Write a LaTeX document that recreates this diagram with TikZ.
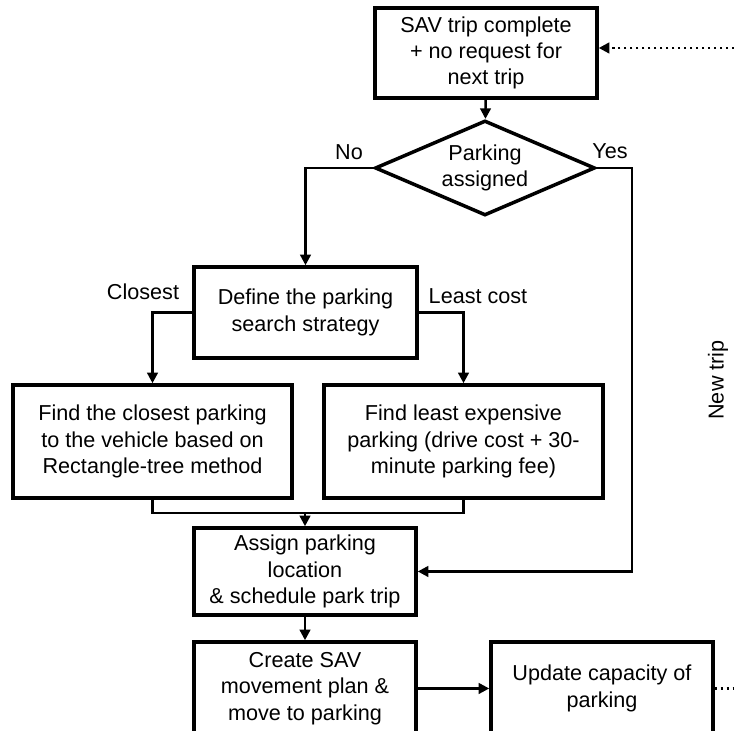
\documentclass[tikz,border=0pt]{standalone}
\usepackage{fontspec}
\setmainfont{Liberation Sans}
\usetikzlibrary{shapes.geometric,arrows.meta}
\begin{document}
\begin{tikzpicture}[
  font=\fontsize{12.3}{15}\selectfont,
  box/.style={draw,line width=2pt,align=center,inner sep=0pt,minimum width=4.44cm},
  widebox/.style={box,minimum width=5.58cm,minimum height=2.26cm},
  flow/.style={line width=1.4pt,-{Triangle[length=6pt,width=6pt]}},
  link/.style={line width=1.4pt}
]
  \useasboundingbox (0,0) rectangle (14.68,14.62);
  \clip (0,0) rectangle (14.68,14.62);
  \node[box,minimum height=1.8cm] (done) at (9.72,13.56) {SAV trip complete\\+ no request for\\next trip};
  \node[draw,line width=2pt,shape=diamond,aspect=2.4,align=center,inner sep=0pt,
        minimum width=4.4cm,minimum height=1.9cm] (assigned) at (9.70,11.26) {Parking\\assigned};
  \node[box,minimum width=4.46cm,minimum height=1.82cm] (strategy) at (6.11,8.37) {Define the parking\\search strategy};
  \node[widebox] (closest) at (3.05,5.79) {Find the closest parking\\to the vehicle based on\\Rectangle-tree method};
  \node[widebox] (cheapest) at (9.27,5.79) {Find least expensive\\parking (drive cost + 30-\\minute parking fee)};
  \node[box,minimum height=1.74cm] (schedule) at (6.10,3.19) {Assign parking\\location\\\& schedule park trip};
  \node[box,minimum height=1.86cm] (move) at (6.10,0.85) {Create SAV\\movement plan \&\\move to parking};
  \node[box,minimum height=1.86cm] (update) at (12.04,0.85) {Update capacity of\\parking};
  \node (no) at (6.98,11.58) {No};
  \node (yes) at (12.2,11.6) {Yes};
  \node (lclosest) at (2.86,8.78) {Closest};
  \node (lcost) at (9.56,8.70) {Least cost};
  \node[rotate=90] (newtrip) at (14.36,7.02) {New trip};
  \coordinate (merge) at (6.10,4.36);
  \coordinate (tripin) at (14.68,13.66);
  \coordinate (tripout) at (14.68,0.85);
  \draw[flow] (done) -- (assigned);
  \draw[flow] (assigned.west) -| (strategy.north);
  \draw[flow] (assigned.east) -- ++(0.7,0) |- (schedule.east);
  \draw[flow] (strategy.west) -| (closest.north);
  \draw[flow] (strategy.east) -| (cheapest.north);
  \draw[link] (closest.south) |- (merge) -| (cheapest.south);
  \draw[flow] (merge) -- (schedule);
  \draw[flow] (schedule) -- (move);
  \draw[flow] (move) -- (update);
  \draw[flow,dotted] (tripin) -- (tripin -| done.east);
  \draw[link,dotted] (update.east) -- (tripout);
\end{tikzpicture}
\end{document}
